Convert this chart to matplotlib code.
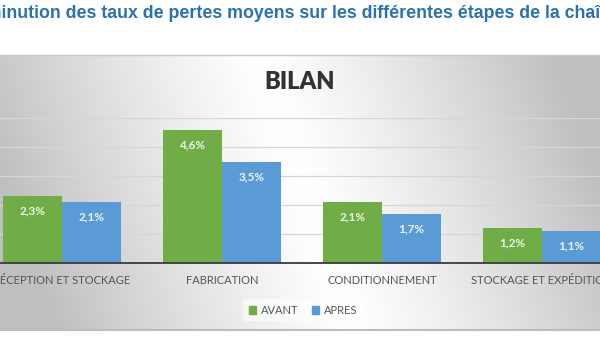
import numpy as np
import matplotlib
matplotlib.use("Agg")
import matplotlib.pyplot as plt
from matplotlib.patches import Patch

plt.rcParams["font.family"] = ["Lato", "DejaVu Sans"]

# données
categories = ["RÉCEPTION ET STOCKAGE", "FABRICATION", "CONDITIONNEMENT", "STOCKAGE ET EXPÉDITION"]
avant = [2.3, 4.6, 2.1, 1.2]
apres = [2.1, 3.5, 1.7, 1.1]
series_labels = ["AVANT", "APRES"]

TITRE = "Diminution des taux de pertes moyens sur les différentes étapes de la chaîne"
COL_AVANT = "#70ad47"
COL_APRES = "#5b9bd5"
COL_TITRE = "#2a71b0"
TXT = "#555555"

W, H = 600, 338
fig = plt.figure(figsize=(W / 100, H / 100), dpi=100)
fig.patch.set_facecolor("white")

# fond du graphique : degrade gris -> blanc -> gris (en diagonale)
pan_bot, pan_top = 1 - 330 / H, 1 - 55 / H
bg = fig.add_axes([0, pan_bot, 1, pan_top - pan_bot])
nx, ny = 300, 120
xx, yy = np.meshgrid(np.linspace(0, 1, nx), np.linspace(0, 1, ny))
centre = 0.43 + 0.16 * yy  # yy=0 en haut (imshow origin upper)
d = np.abs(xx - centre)
g = 1 - 0.25 * np.clip(d / 0.5, 0, 1) ** 1.2
bg.imshow(np.dstack([g, g, g]), aspect="auto", extent=[0, 1, 0, 1], origin="upper")
bg.set_xlim(0, 1)
bg.set_ylim(0, 1)
bg.axis("off")
fig.add_artist(plt.Line2D([0, 1], [pan_top, pan_top], color="#c4c4c4", lw=1))
fig.add_artist(plt.Line2D([0, 1], [pan_bot, pan_bot], color="#bdbdbd", lw=1.5))

# axes principaux
x = np.arange(len(categories))
bw = 0.37
px_per_cat = 160
x0_px = 62
ax = fig.add_axes([0, 1 - 263 / H, 1, 145 / H])
ax.patch.set_alpha(0)
ax.set_xlim(-x0_px / px_per_cat, (W - x0_px) / px_per_cat)
ax.set_ylim(0, 5)

b1 = ax.bar(x - bw / 2, avant, bw, color=COL_AVANT, zorder=3, label=series_labels[0])
b2 = ax.bar(x + bw / 2, apres, bw, color=COL_APRES, zorder=3, label=series_labels[1])
for bars, vals in ((b1, avant), (b2, apres)):
    for r, v in zip(bars, vals):
        ax.annotate(f"{v:.1f}%".replace(".", ","), (r.get_x() + r.get_width() / 2, v),
                    xytext=(0, -15), textcoords="offset pixels",
                    ha="center", va="center", fontsize=8.5, fontweight="bold",
                    color="white", alpha=0.88, zorder=4)

ax.set_yticks(np.arange(0, 6, 1))
ax.yaxis.grid(True, color="#d6d6d6", lw=0.9, zorder=0)
ax.tick_params(axis="y", left=False, labelleft=False)
ax.set_xticks(x)
ax.set_xticklabels(categories, fontsize=8, color=TXT)
ax.tick_params(axis="x", length=0, pad=9)
for s in ["top", "right", "left"]:
    ax.spines[s].set_visible(False)
ax.spines["bottom"].set_color("#3a3a3a")
ax.spines["bottom"].set_linewidth(1.3)
ax.spines["bottom"].set_zorder(5)

fig.text(0.5, 1 - 82 / H, "BILAN", ha="center", va="center", fontsize=17,
         fontweight="heavy", color="#333333")

leg = fig.legend(handles=[Patch(color=COL_AVANT, label=series_labels[0]),
                          Patch(color=COL_APRES, label=series_labels[1])],
                 loc="center", bbox_to_anchor=(0.505, 1 - 310 / H), ncol=2, fontsize=8,
                 frameon=True, handlelength=0.7, handleheight=0.7, handletextpad=0.4,
                 columnspacing=1.2, borderpad=0.5, labelcolor=TXT)
leg.get_frame().set_facecolor("white")
leg.get_frame().set_edgecolor("none")
leg.get_frame().set_alpha(0.6)

# titre coupe a gauche : on decale pour que "inution" commence au bord
TSIZE = 12.8
renderer = fig.canvas.get_renderer()
tmp = fig.text(0, 0, "Dim", fontsize=TSIZE, fontweight="bold", family="Liberation Sans")
w_dim = tmp.get_window_extent(renderer).width
tmp.remove()
fig.text((1 - w_dim) / W, 1 - 14 / H, TITRE, ha="left", va="center", fontsize=TSIZE,
         fontweight="bold", family="Liberation Sans", color=COL_TITRE)

fig.savefig("out.png", dpi=100, facecolor="white")
